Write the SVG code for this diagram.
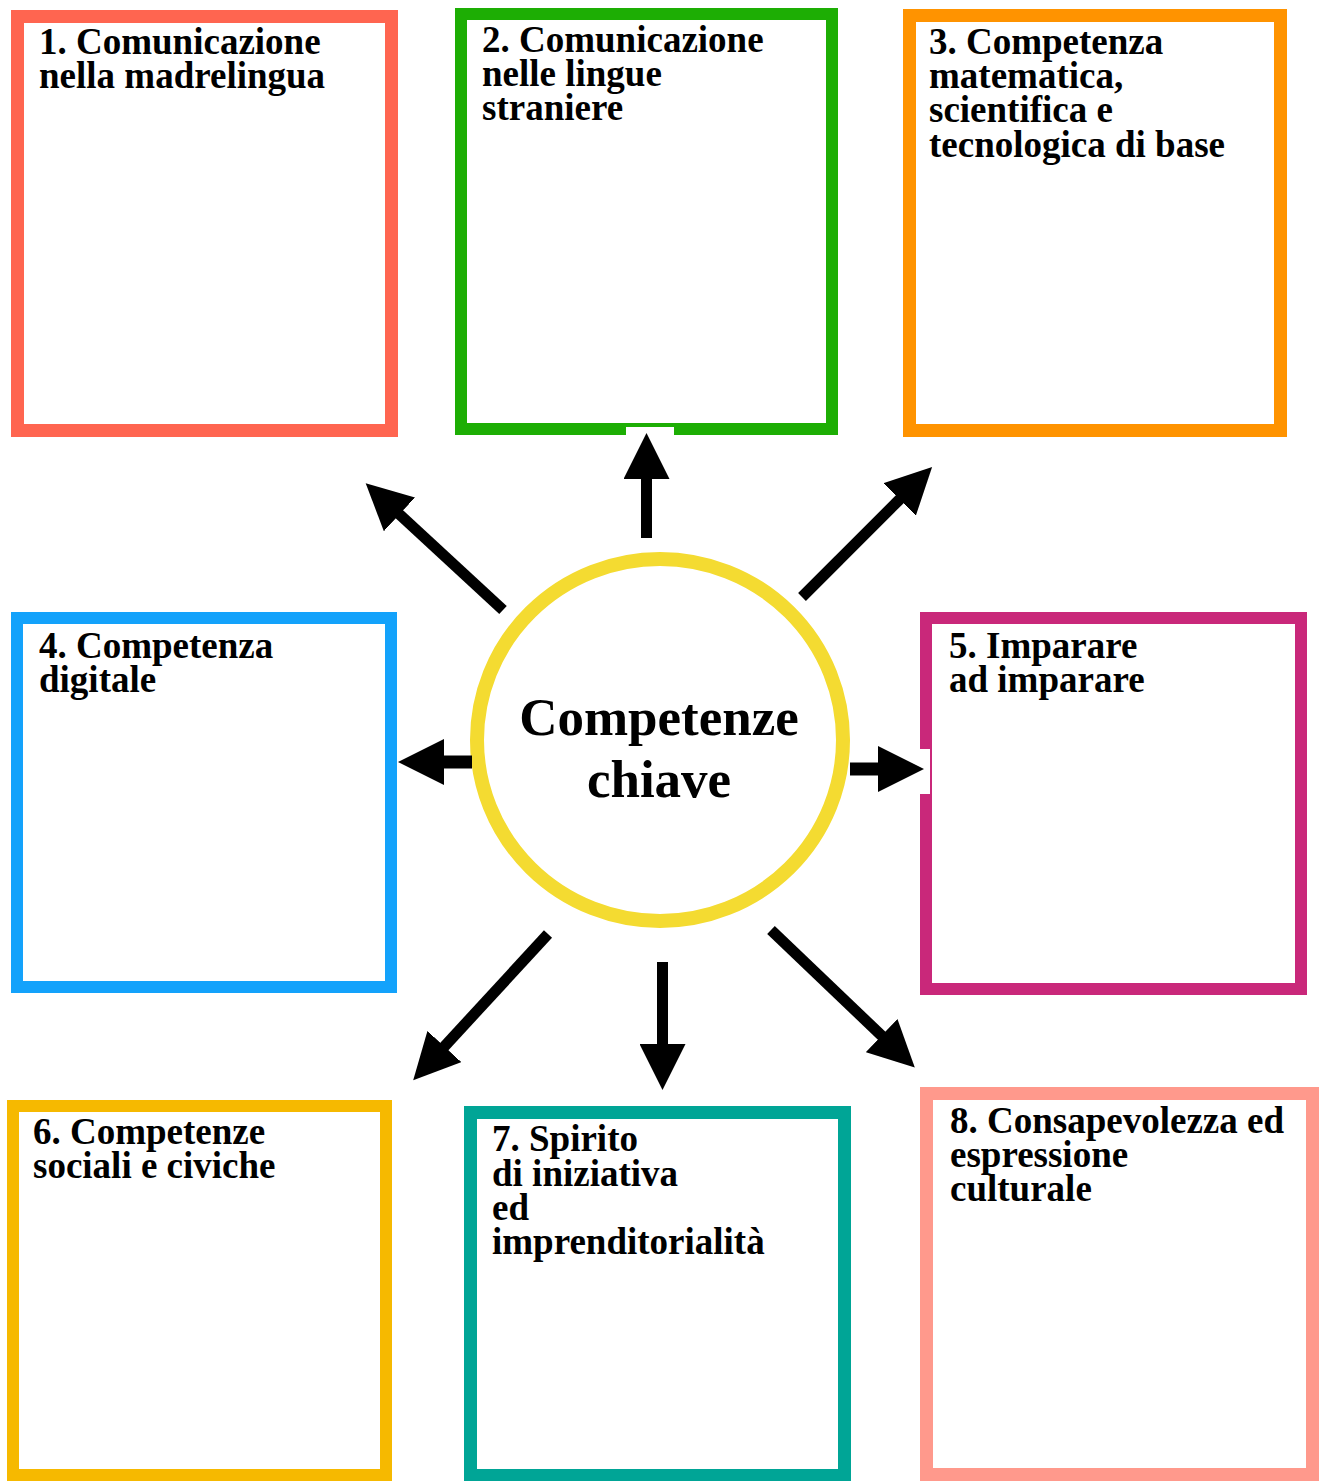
<svg xmlns="http://www.w3.org/2000/svg" width="1323" height="1481" viewBox="0 0 1323 1481">
<defs>
<style>
.box{fill:#FFFFFF;}
.lbl{font-family:"Liberation Serif","Times New Roman",serif;font-weight:bold;font-size:37px;fill:#000000;}
.center{font-family:"Liberation Serif","Times New Roman",serif;font-weight:bold;font-size:53px;fill:#000000;text-anchor:middle;}
.arrow{stroke:#000000;stroke-width:11;fill:none;marker-end:url(#head);}
</style>
<marker id="head" markerUnits="userSpaceOnUse" markerWidth="46" markerHeight="46" viewBox="0 0 46 46" refX="2" refY="23" orient="auto">
<path d="M0,0 L46,23 L0,46 z" fill="#000000"/>
</marker>
</defs>
<rect width="1323" height="1481" fill="#FFFFFF"/>

<g id="node1">
<rect class="box" x="17.5" y="16.5" width="374" height="414" stroke="#FF6550" stroke-width="13"/>
<text class="lbl" x="39" y="54">1. Comunicazione</text>
<text class="lbl" x="39" y="88">nella madrelingua</text>
</g>

<g id="node2">
<rect class="box" x="461" y="14" width="371" height="415" stroke="#1DAE04" stroke-width="12"/>
<text class="lbl" x="482" y="52">2. Comunicazione</text>
<text class="lbl" x="482" y="86">nelle lingue</text>
<text class="lbl" x="482" y="120">straniere</text>
</g>

<g id="node3">
<rect class="box" x="909.5" y="15.5" width="371" height="415" stroke="#FF9300" stroke-width="13"/>
<text class="lbl" x="929" y="54">3. Competenza</text>
<text class="lbl" x="929" y="88">matematica,</text>
<text class="lbl" x="929" y="122">scientifica e</text>
<text class="lbl" x="929" y="157">tecnologica di base</text>
</g>

<g id="node4">
<rect class="box" x="17" y="618" width="374" height="369" stroke="#13A2FB" stroke-width="12"/>
<text class="lbl" x="39" y="658">4. Competenza</text>
<text class="lbl" x="39" y="692">digitale</text>
</g>

<g id="node5">
<rect class="box" x="926" y="618" width="375" height="371" stroke="#C9287A" stroke-width="12"/>
<text class="lbl" x="949" y="658">5. Imparare</text>
<text class="lbl" x="949" y="692">ad imparare</text>
</g>

<g id="node6">
<rect class="box" x="13" y="1106" width="373" height="369" stroke="#F6B900" stroke-width="12"/>
<text class="lbl" x="33" y="1144">6. Competenze</text>
<text class="lbl" x="33" y="1178">sociali e civiche</text>
</g>

<g id="node7">
<rect class="box" x="470.5" y="1112.5" width="374" height="363" stroke="#00A596" stroke-width="13"/>
<text class="lbl" x="492" y="1151">7. Spirito</text>
<text class="lbl" x="492" y="1186">di iniziativa</text>
<text class="lbl" x="492" y="1220">ed</text>
<text class="lbl" x="492" y="1254">imprenditorialità</text>
</g>

<g id="node8">
<rect class="box" x="926.5" y="1093.5" width="386" height="381" stroke="#FF998C" stroke-width="13"/>
<text class="lbl" x="950" y="1133">8. Consapevolezza ed</text>
<text class="lbl" x="950" y="1167">espressione</text>
<text class="lbl" x="950" y="1201">culturale</text>
</g>

<g id="center">
<ellipse cx="660" cy="740" rx="183" ry="181" fill="#FFFFFF" stroke="#F4DB31" stroke-width="14"/>
<text class="center" x="659" y="735">Competenze</text>
<text class="center" x="659" y="797">chiave</text>
</g>

<g id="connectors">
<rect x="626" y="427" width="48" height="10" fill="#FFFFFF"/>
<rect x="920" y="749" width="10" height="45" fill="#FFFFFF"/>
<line class="arrow" x1="646.5" y1="538" x2="646.5" y2="477"/>
<line class="arrow" x1="503" y1="610" x2="398" y2="513"/>
<line class="arrow" x1="802" y1="597" x2="901" y2="498"/>
<line class="arrow" x1="472" y1="762" x2="442" y2="762" style="stroke-width:13"/>
<line class="arrow" x1="850" y1="769" x2="880" y2="769" style="stroke-width:13"/>
<line class="arrow" x1="548" y1="934" x2="443" y2="1048"/>
<line class="arrow" x1="662.5" y1="962" x2="662.5" y2="1046"/>
<line class="arrow" x1="771" y1="930" x2="883" y2="1037"/>
</g>
</svg>
